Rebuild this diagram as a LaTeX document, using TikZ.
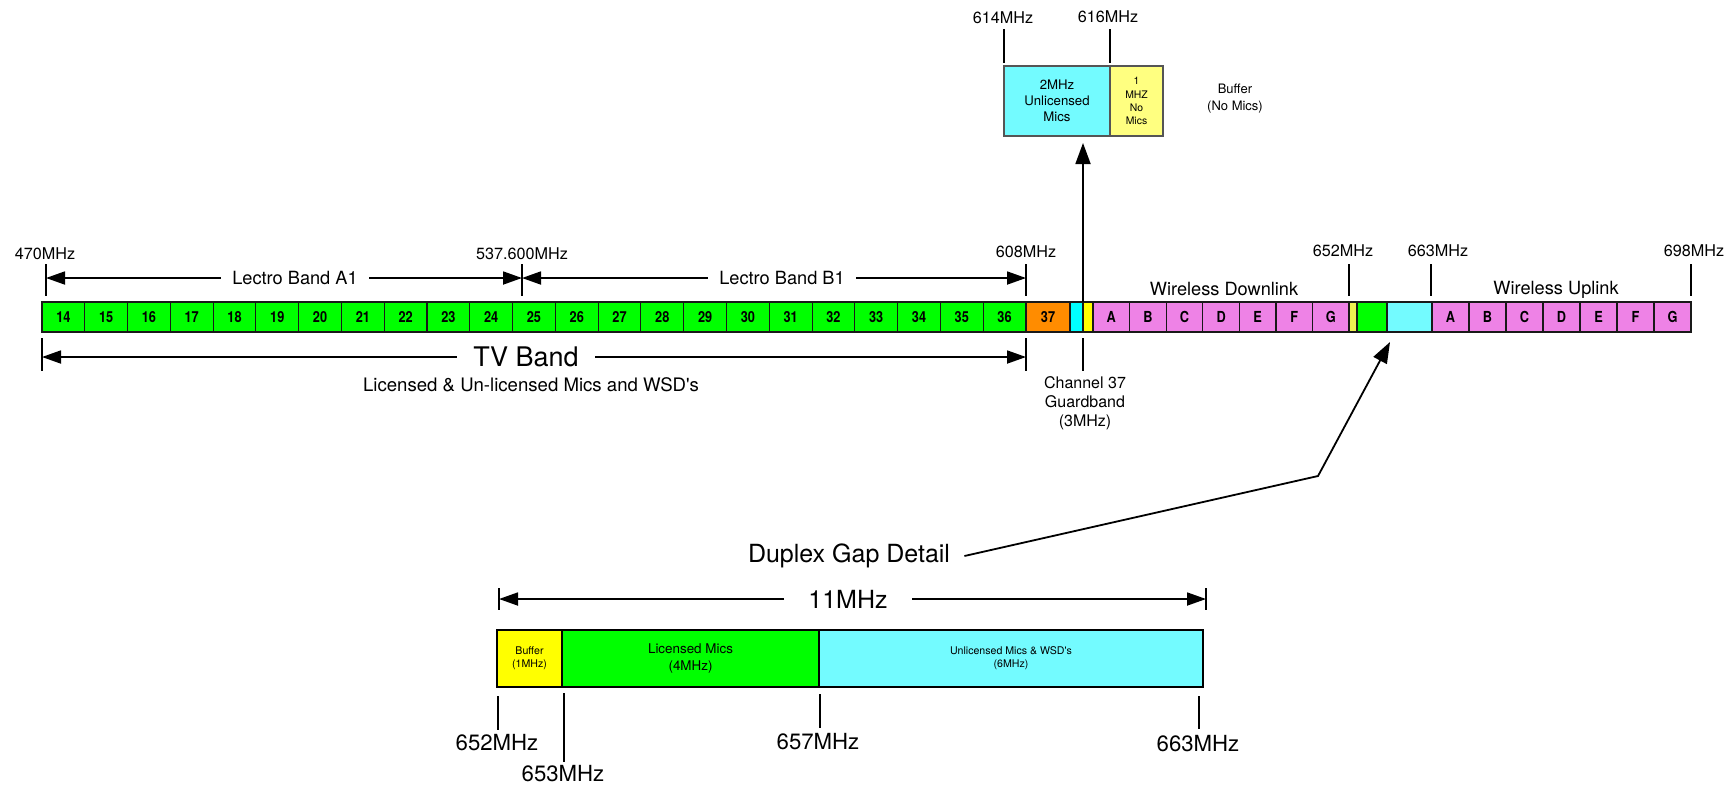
\documentclass[tikz,border=0pt]{standalone}
\usepackage{fontspec}
\setmainfont{TeX Gyre Heros}
\newfontfamily\cellfont{TeX Gyre Heros}[FakeStretch=0.84]
\usepackage{tikz}
\usetikzlibrary{arrows.meta,positioning}
\definecolor{tvGreen}{HTML}{00FF00}
\definecolor{chOrange}{HTML}{FF8C00}
\definecolor{guardCyan}{HTML}{00FFFF}
\definecolor{guardYellow}{HTML}{FFFF00}
\definecolor{wlPink}{HTML}{EE82E6}
\definecolor{gapYellow}{HTML}{EEF050}
\definecolor{gapCyan}{HTML}{73FBFF}
\definecolor{paleYellow}{HTML}{FFFF80}
\definecolor{boxLine}{HTML}{555555}

\begin{document}
\begin{tikzpicture}[x=0.5pt,y=-0.5pt,
  cell/.style={draw=black!90,line width=0.55pt,anchor=north west,minimum height=15pt,inner sep=0pt,outer sep=0pt,
    font=\cellfont\bfseries\fontsize{7.6}{8}\selectfont},
  band/.style={draw=black,line width=1.4pt,anchor=north west,minimum height=28.5pt,inner sep=0pt,outer sep=0pt,align=center},
  topbox/.style={draw=boxLine,line width=0.6pt,anchor=north west,minimum height=35pt,inner sep=0pt,outer sep=0pt,align=center},
  tick/.style={line width=1pt},
  dim/.style={-{Triangle[length=9.5pt,width=6.5pt]},line width=0.9pt},
  freq/.style={font=\fontsize{8.1}{9.7}\selectfont,inner sep=0pt},
  lowfreq/.style={font=\fontsize{11.1}{13}\selectfont,inner sep=0pt},
  lbl/.style={font=\fontsize{9.1}{11}\selectfont,inner ysep=0pt,inner xsep=5.5pt}]
  \useasboundingbox (0,0) rectangle (1732,789);

  \foreach \c in {14,...,36}
    \node[cell,fill=tvGreen,minimum width=21.39pt] (ch\c) at ({42+(\c-14)*42.78},302) {\c};
  \node[cell,fill=chOrange,minimum width=22pt] (ch37) at (1026,302) {37};
  \node[cell,fill=guardCyan,minimum width=6.5pt] (gcyan) at (1070,302) {};
  \node[cell,fill=guardYellow,minimum width=5pt] (gyel) at (1083,302) {};
  \foreach \l [count=\i from 0] in {A,B,C,D,E,F,G}
    \node[cell,fill=wlPink,minimum width=18.3pt] (dl\l) at ({1093+\i*36.6},302) {\l};
  \node[cell,fill=gapYellow,minimum width=4pt] (gapyel) at (1349,302) {};
  \node[cell,fill=tvGreen,minimum width=15pt] (gapgrn) at (1357,302) {};
  \node[cell,fill=gapCyan,minimum width=22.5pt] (gapcyn) at (1387,302) {};
  \foreach \l [count=\i from 0] in {A,B,C,D,E,F,G}
    \node[cell,fill=wlPink,minimum width=18.5pt] (ul\l) at ({1432+\i*37},302) {\l};

  \node[freq] (f470) at (45,254) {470MHz};
  \node[freq] (f537) at (522,254) {537.600MHz};
  \node[freq] (f608) at (1026,252) {608MHz};
  \node[freq] (f652) at (1343,251) {652MHz};
  \node[freq] (f663) at (1438,251) {663MHz};
  \node[freq] (f698) at (1694,251) {698MHz};
  \node[freq] (f614) at (1003,18) {614MHz};
  \node[freq] (f616) at (1108,17) {616MHz};
  \foreach \x in {46,522,1026,1349,1431,1691}
    \draw[tick] (\x,264) -- (\x,296);
  \foreach \x in {1004,1110}
    \draw[tick] (\x,29) -- (\x,63);
  \foreach \x in {42,1026,1083}
    \draw[tick] (\x,338) -- (\x,371);

  \coordinate (a470) at (46,278);
  \coordinate (a537) at (522,278);
  \coordinate (a608) at (1026,278);
  \node[lbl] (bandA1) at (295,278) {Lectro Band A1};
  \node[lbl] (bandB1) at (782,278) {Lectro Band B1};
  \draw[dim] (bandA1.west) -- (a470);
  \draw[dim] (bandA1.east) -- (a537);
  \draw[dim] (bandB1.west) -- (a537);
  \draw[dim] (bandB1.east) -- (a608);
  \node[lbl] (down) at (1224,289) {Wireless Downlink};
  \node[lbl] (up) at (1556,290) {Wireless Uplink};

  \coordinate (tvL) at (42,357);
  \coordinate (tvR) at (1026,357);
  \node[font=\fontsize{13.5}{16}\selectfont,inner xsep=8pt,inner ysep=0pt] (tvband) at (526,357) {TV Band};
  \draw[dim] (tvband.west) -- (tvL);
  \draw[dim] (tvband.east) -- (tvR);
  \node[lbl,font=\fontsize{9.3}{11}\selectfont] (tvuse) at (531,385) {Licensed \& Un-licensed Mics and WSD\textquotesingle s};
  \node[align=center,font=\fontsize{8}{9.5}\selectfont] (guardtxt) at (1085,403) {Channel 37\\Guardband\\(3MHz)};

  \node[topbox,fill=gapCyan,minimum width=53pt,font=\fontsize{6.6}{8}\selectfont] (unlic) at (1004,66) {2MHz\\Unlicensed\\Mics};
  \node[topbox,fill=paleYellow,minimum width=26.5pt,font=\fontsize{5.2}{6.6}\selectfont] (nomics) at (1110,66) {1\\MHZ\\No\\Mics};
  \node[font=\fontsize{6.5}{8.5}\selectfont,align=center] (buffer) at (1235,99) {Buffer\\(No Mics)};
  \draw[dim,-{Triangle[length=10.5pt,width=7.5pt]}] (gcyan.north east) -- ([yshift=-3.5pt]gcyan.north east |- unlic.south);

  \node[font=\fontsize{12.5}{15}\selectfont,inner xsep=7pt] (gapdetail) at (849,556) {Duplex Gap Detail};
  \coordinate (elbow) at (1318,476);
  \coordinate (gaptip) at (1390,342);
  \draw[dim,-{Triangle[length=10.5pt,width=7.5pt]}] (gapdetail.east) -- (elbow) -- (gaptip);

  \coordinate (s652) at (499,599);
  \coordinate (s663) at (1206,599);
  \node[font=\fontsize{12.5}{15}\selectfont,inner xsep=12pt,inner ysep=0pt] (span) at (848,599) {11MHz};
  \draw[dim] (span.west) -- (s652);
  \draw[dim] (span.east) -- (s663);
  \draw[tick] (499,588) -- (499,610);
  \draw[tick] (1206,588) -- (1206,610);

  \node[band,fill=guardYellow,minimum width=32.5pt,font=\fontsize{5.3}{6.7}\selectfont] (buf) at (497,630) {Buffer\\(1MHz)};
  \node[band,fill=tvGreen,minimum width=128.5pt,font=\fontsize{6.7}{8.3}\selectfont] (licmics) at (562,630) {Licensed Mics\\(4MHz)};
  \node[band,fill=gapCyan,minimum width=192pt,font=\fontsize{5.3}{6.5}\selectfont] (unlicmics) at (819,630) {Unlicensed Mics \& WSD\textquotesingle s\\(6MHz)};

  \draw[tick] (498,696) -- (498,730);
  \draw[tick] (564,693) -- (564,762);
  \draw[tick] (820,694) -- (820,728);
  \draw[tick] (1199,696) -- (1199,729);
  \node[lowfreq] (l652) at (497,743) {652MHz};
  \node[lowfreq] (l653) at (563,774) {653MHz};
  \node[lowfreq] (l657) at (818,742) {657MHz};
  \node[lowfreq] (l663) at (1198,744) {663MHz};
\end{tikzpicture}
\end{document}
